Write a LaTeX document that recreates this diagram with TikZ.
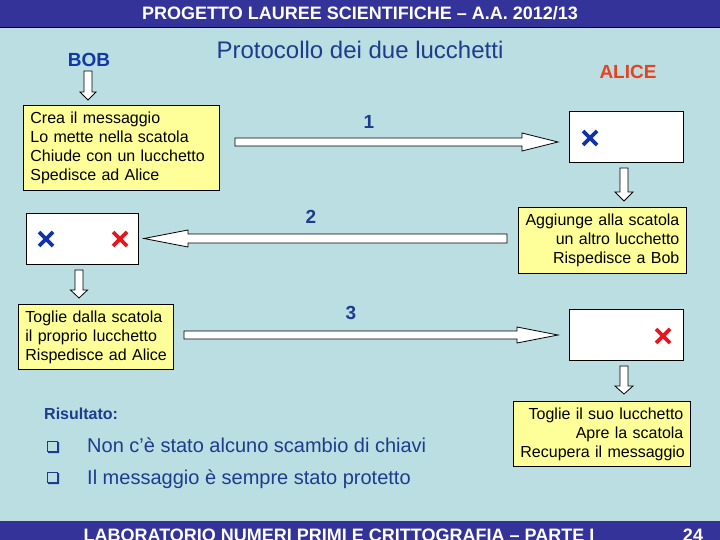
\documentclass[tikz,border=0pt]{standalone}
\usepackage{fontspec}
\setmainfont{Liberation Sans}
\definecolor{bg}{RGB}{186,222,226}
\definecolor{bar}{RGB}{51,51,153}
\definecolor{ybox}{RGB}{255,255,153}
\definecolor{dblue}{RGB}{30,60,140}
\definecolor{bobblue}{RGB}{16,56,170}
\definecolor{alred}{RGB}{232,66,30}
\definecolor{xblue}{RGB}{16,50,170}
\definecolor{xred}{RGB}{232,20,30}
\newcommand{\oneline}[1]{\mbox{#1}}
\tikzset{
  headtxt/.style={text=white,font=\fontsize{18}{20}\bfseries\selectfont,inner sep=0pt},
  yellowbox/.style={draw=black,line width=0.8pt,fill=ybox,inner xsep=7pt,inner ysep=0pt,
     font=\fontsize{16}{19}\selectfont,anchor=north west},
  whitebox/.style={draw=black,line width=0.8pt,fill=white,inner sep=0pt,anchor=north west},
  blockarrow/.style={draw=black,line width=0.8pt,fill=white},
  numlabel/.style={text=dblue,font=\fontsize{19}{22}\bfseries\selectfont,inner sep=0pt},
  cross/.style={line width=3.6pt},
  bulletbox/.style={draw=dblue,line width=0.8pt}
}
\begin{document}
\begin{tikzpicture}[x=1pt,y=-1pt]
\useasboundingbox (0,0) rectangle (720,540);
\fill[bg] (0,0) rectangle (720,540);
% header
\fill[bar] (0,0) rectangle (720,27);
\draw[black,line width=0.8pt] (0,27) -- (720,27);
\node[headtxt] (head) at (360,13.5) {PROGETTO LAUREE SCIENTIFICHE – A.A. 2012/13};
% footer
\fill[bar] (0,521) rectangle (720,540);
\node[headtxt,anchor=base] (foot) at (339,541) {LABORATORIO NUMERI PRIMI E CRITTOGRAFIA – PARTE I};
\node[headtxt,anchor=base] (page) at (693,541) {24};
% titles
\node[text=dblue,font=\fontsize{24}{28}\selectfont,inner sep=0pt] (title) at (360,50) {Protocollo dei due lucchetti};
\node[text=bobblue,font=\fontsize{19}{22}\bfseries\selectfont,inner sep=0pt] (bob) at (89,60) {BOB};
\node[text=alred,font=\fontsize{19}{22}\bfseries\selectfont,inner sep=0pt] (alice) at (628,72) {ALICE};
% yellow boxes
\node[yellowbox,minimum width=196pt,minimum height=85pt,text width=182pt,align=left] (b1) at (23,105)
  {\oneline{Crea il messaggio}\\\oneline{Lo mette nella scatola}\\\oneline{Chiude con un lucchetto}\\\oneline{Spedisce ad Alice}};
\node[yellowbox,minimum width=168pt,minimum height=66pt,text width=154pt,align=right] (a1) at (518,207)
  {\oneline{Aggiunge alla scatola}\\\oneline{un altro lucchetto}\\\oneline{Rispedisce a Bob}};
\node[yellowbox,minimum width=155pt,minimum height=65pt,text width=141pt,align=left] (b2) at (18,304)
  {\oneline{Toglie dalla scatola}\\\oneline{il proprio lucchetto}\\\oneline{Rispedisce ad Alice}};
\node[yellowbox,minimum width=177pt,minimum height=65pt,text width=163pt,align=right] (a2) at (513,401)
  {\oneline{Toglie il suo lucchetto}\\\oneline{Apre la scatola}\\\oneline{Recupera il messaggio}};
% white boxes
\node[whitebox,minimum width=114pt,minimum height=51pt] (abox1) at (569,111) {};
\node[whitebox,minimum width=112pt,minimum height=51pt] (bbox) at (26,213) {};
\node[whitebox,minimum width=114pt,minimum height=51pt] (abox2) at (569,309) {};
% crosses
\draw[cross,xblue] (583,131) -- (597,145) (583,145) -- (597,131);
\draw[cross,xblue] (39,232) -- (53,246) (39,246) -- (53,232);
\draw[cross,xred] (113,232) -- (127,246) (113,246) -- (127,232);
\draw[cross,xred] (656,329) -- (670,343) (656,343) -- (670,329);
% horizontal block arrows
\draw[blockarrow] (235,138) -- (522,138) -- (522,133) -- (558,142) -- (522,151) -- (522,146) -- (235,146) -- cycle;
\draw[blockarrow] (507,234) -- (188,234) -- (188,230) -- (144,238.5) -- (188,247) -- (188,243) -- (507,243) -- cycle;
\draw[blockarrow] (184,331) -- (517,331) -- (517,327) -- (558,335) -- (517,343) -- (517,339) -- (184,339) -- cycle;
% vertical block arrows
\draw[blockarrow] (84,71) -- (84,92) -- (80,92) -- (88,100) -- (96,92) -- (92,92) -- (92,71) -- cycle;
\draw[blockarrow] (75,270) -- (75,290) -- (70.5,290) -- (79,298) -- (87.5,290) -- (83,290) -- (83,270) -- cycle;
\draw[blockarrow] (620,168) -- (620,192) -- (615,192) -- (624,201) -- (633,192) -- (628,192) -- (628,168) -- cycle;
\draw[blockarrow] (620,366) -- (620,386) -- (615,386) -- (624,394) -- (633,386) -- (628,386) -- (628,366) -- cycle;
% labels
\node[numlabel] (n1) at (369,122) {1};
\node[numlabel] (n2) at (311,217) {2};
\node[numlabel] (n3) at (351,313) {3};
% result
\node[text=dblue,font=\fontsize{16}{19}\bfseries\selectfont,inner sep=0pt,anchor=base west] (ris) at (44,419) {Risultato:};
\draw[bulletbox] (47,441) rectangle (57.5,451);
\fill[dblue] (48,451) rectangle (59,453) (57.5,442) rectangle (59,453);
\draw[bulletbox] (47,472) rectangle (57.5,482);
\fill[dblue] (48,482) rectangle (59,484) (57.5,473) rectangle (59,484);
\node[text=dblue,font=\fontsize{20}{23}\selectfont,inner sep=0pt,anchor=base west] (r1) at (87,452) {Non c’è stato alcuno scambio di chiavi};
\node[text=dblue,font=\fontsize{20}{23}\selectfont,inner sep=0pt,anchor=base west] (r2) at (87,484) {Il messaggio è sempre stato protetto};
\end{tikzpicture}
\end{document}
